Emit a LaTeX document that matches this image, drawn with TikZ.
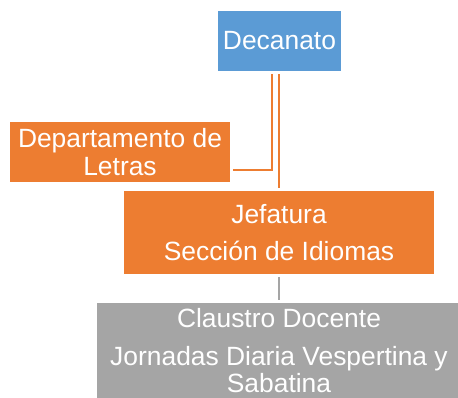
\documentclass[tikz,border=0pt]{standalone}
\usepackage{fontspec}
\setmainfont{Liberation Sans}
\usepackage{tikz}
\usetikzlibrary{positioning,calc}
\definecolor{azul}{HTML}{5B9BD5}
\definecolor{naranja}{HTML}{ED7D31}
\definecolor{gris}{HTML}{A5A5A5}
\tikzset{
  orgbox/.style={rectangle, text=white, inner sep=0pt, align=center, font=\fontsize{26.4}{27.5}\selectfont},
  bluebox/.style={orgbox, fill=azul},
  orangebox/.style={orgbox, fill=naranja},
  greybox/.style={orgbox, fill=gris},
  link/.style={draw=naranja, line width=2pt},
  greylink/.style={draw=gris, line width=2pt}
}

\begin{document}
\begin{tikzpicture}[x=1pt, y=-1pt]
  \useasboundingbox (0,0) rectangle (458,397);
  \clip (0,0) rectangle (458,397);

  \node[bluebox, minimum width=123pt, minimum height=60pt] (decanato) at (279.5,41) {Decanato};
  \node[orangebox, minimum width=220pt, minimum height=60pt] (depto) at (120,152) {Departamento de\\Letras};
  \node[orangebox, minimum width=310pt, minimum height=83pt] (jefatura) at (279,232.5) {Jefatura\\[10pt]Sección de Idiomas};
  \node[greybox, minimum width=364pt, minimum height=95pt] (claustro) at (279,350.7) {Claustro Docente\\[10pt]Jornadas Diaria Vespertina y\\Sabatina};

  \draw[link] ([xshift=-7.5pt,yshift=-3pt]decanato.south) |- ([xshift=3pt,yshift=-18pt]depto.east);
  \draw[link] ([xshift=-0.5pt,yshift=-3pt]decanato.south) -- ([yshift=3pt]jefatura.north);
  \draw[greylink] ([yshift=-3pt]jefatura.south) -- ([yshift=3pt]claustro.north);
\end{tikzpicture}
\end{document}
